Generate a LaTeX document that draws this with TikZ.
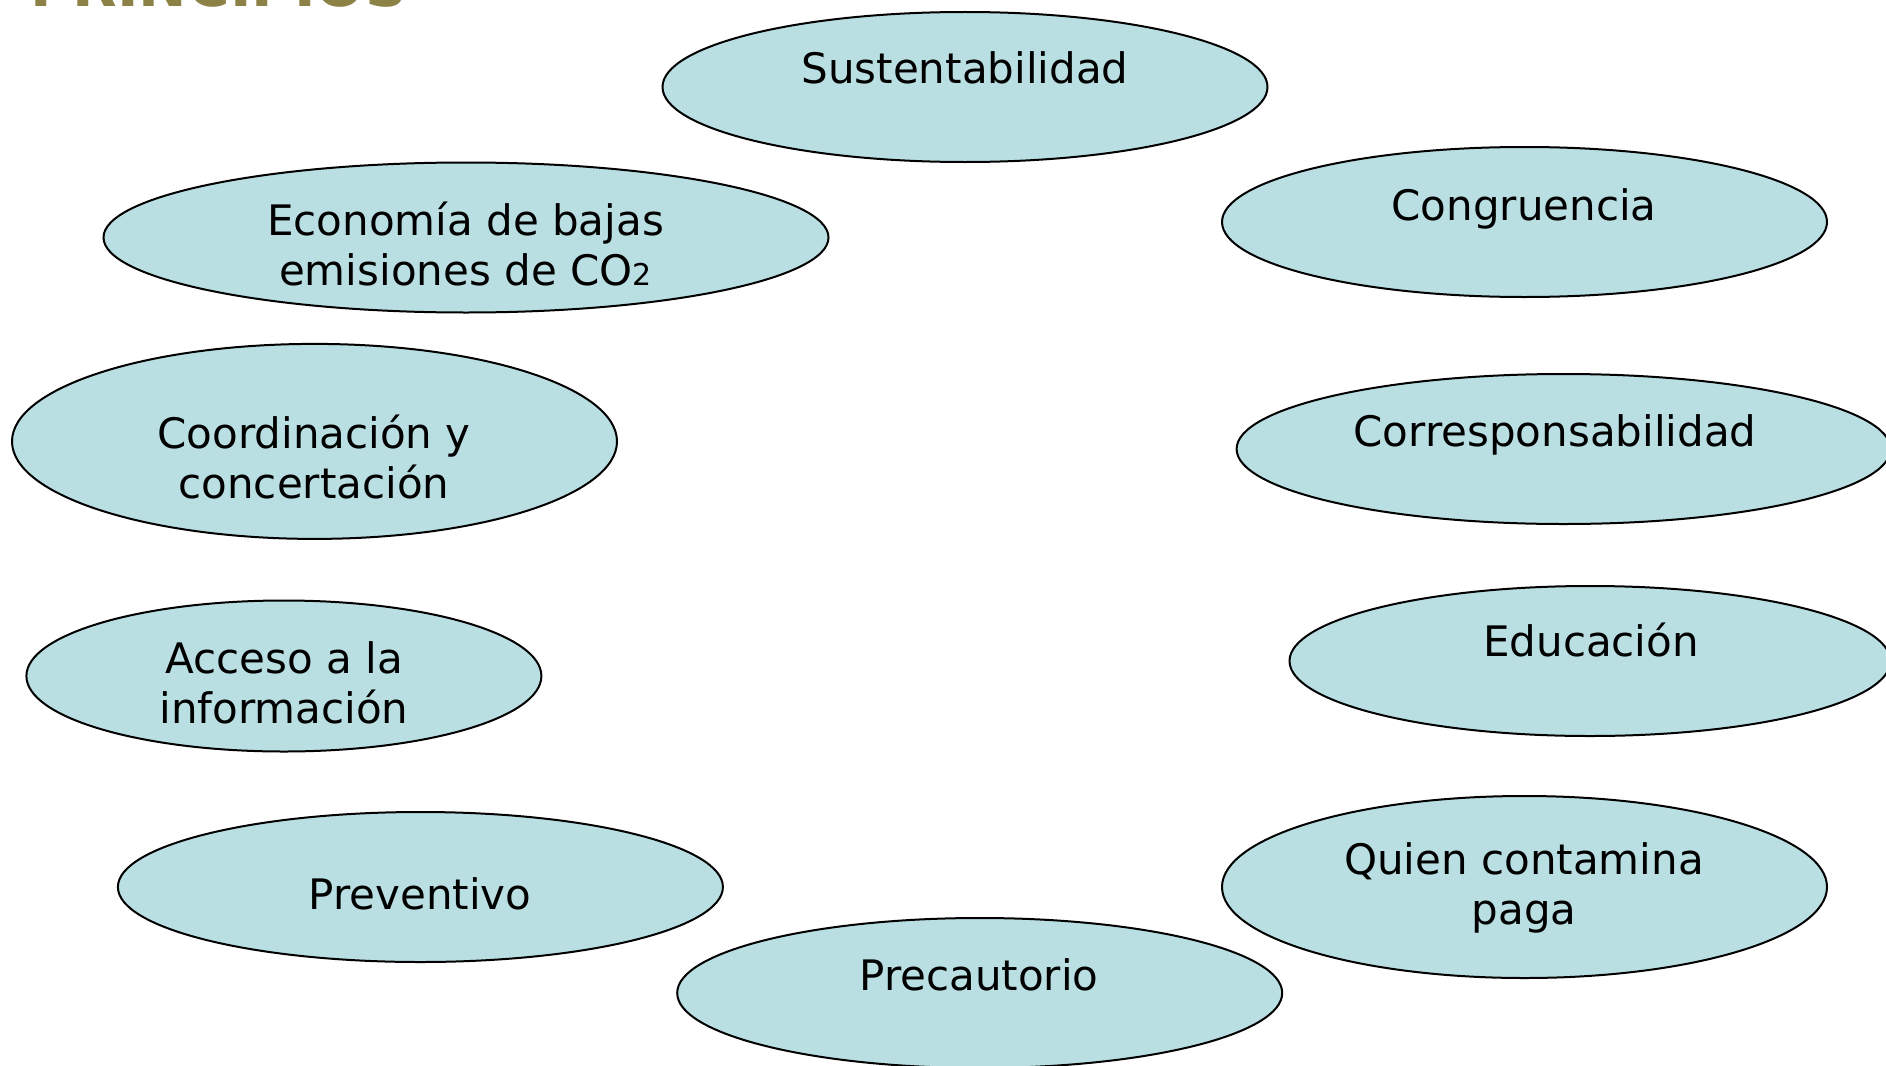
\documentclass[tikz,border=0pt]{standalone}
\usepackage{fontspec}
\setmainfont{DejaVu Sans}
\usetikzlibrary{shapes.geometric}
\definecolor{ovalfill}{RGB}{186,223,227}
\definecolor{titlecol}{RGB}{140,130,70}
\tikzset{
  oval/.style={ellipse, draw=black, line width=2pt, fill=ovalfill, inner sep=0pt},
  lbl/.style={anchor=base, align=center, inner sep=0pt, font=\fontsize{42}{50.5}\selectfont},
}
\begin{document}
\begin{tikzpicture}[x=1pt,y=-1pt]
\useasboundingbox (0,0) rectangle (1886,1065);
\node[anchor=base west, inner sep=0pt, text=titlecol, font=\bfseries\fontsize{58}{64}\selectfont] (title) at (30,7) {PRINCIPIOS};

\node[oval, minimum width=605pt, minimum height=150pt] (e1) at (965,87) {};
\node[lbl] (t1) at (965,83) {Sustentabilidad};

\node[oval, minimum width=725pt, minimum height=150pt] (e2) at (466,237.5) {};
\node[lbl] (t2) at (465.5,285.5) {Economía de bajas\\emisiones de CO\fontsize{30}{36}\selectfont 2};

\node[oval, minimum width=605pt, minimum height=150pt] (e3) at (1524.5,222) {};
\node[lbl] (t3) at (1524,220) {Congruencia};

\node[oval, minimum width=605pt, minimum height=195pt] (e4) at (314.5,441.4) {};
\node[lbl] (t4) at (314,498.5) {Coordinación y\\concertación};

\node[oval, minimum width=654pt, minimum height=150pt] (e5) at (1563.6,449) {};
\node[lbl] (t5) at (1555,446) {Corresponsabilidad};

\node[oval, minimum width=515pt, minimum height=151pt] (e6) at (283.9,676) {};
\node[lbl] (t6) at (284,723.5) {Acceso a la\\información};

\node[oval, minimum width=601pt, minimum height=150pt] (e7) at (1590,661) {};
\node[lbl] (t7) at (1591,656) {Educación};

\node[oval, minimum width=605pt, minimum height=150pt] (e8) at (420.4,887) {};
\node[lbl] (t8) at (420,909) {Preventivo};

\node[oval, minimum width=605pt, minimum height=182pt] (e9) at (1524.5,887) {};
\node[lbl] (t9) at (1524,924.5) {Quien contamina\\paga};

\node[oval, minimum width=605pt, minimum height=150pt] (e10) at (979.7,993) {};
\node[lbl] (t10) at (979,990) {Precautorio};
\end{tikzpicture}
\end{document}
